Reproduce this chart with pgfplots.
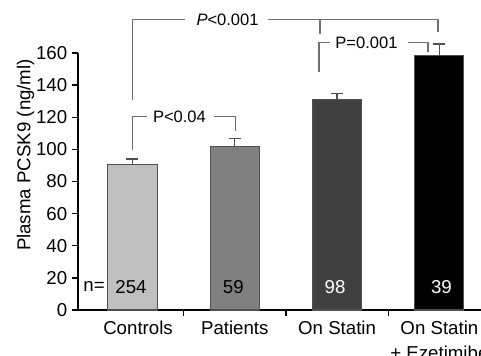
\documentclass[border=0pt]{standalone}
\usepackage{fontspec}
\setmainfont{Liberation Sans}
\usepackage{pgfplots}
\pgfplotsset{compat=1.18}
\definecolor{cA}{HTML}{C0C0C0}
\definecolor{cB}{HTML}{808080}
\definecolor{cC}{HTML}{404040}
\definecolor{cD}{HTML}{000000}
\definecolor{edge}{HTML}{505050}
\definecolor{brk}{HTML}{707070}
\begin{document}
\begin{tikzpicture}
\useasboundingbox (-58.5pt,-33.75pt) rectangle (302.25pt,232.5pt);
\begin{axis}[
  at={(40.875pt,0pt)}, anchor=origin,
  x=76.725pt, y=1.2045pt,
  xmin=-0.533, xmax=3.6, ymin=0, ymax=160,
  clip=false,
  axis x line=bottom, axis y line=left,
  axis line style={-, line width=1pt, black},
  tick align=outside,
  major tick length=4.5pt,
  tick style={black, line width=1pt},
  ytick={0,20,...,160},
  xtick={0.5,1.5,2.5,3.5},
  xticklabels={},
  extra x ticks={0.054,1,2,3},
  extra x tick labels={Controls,Patients,On Statin,{On Statin\\+ Ezetimibe}},
  extra x tick style={major tick length=0pt, tick label style={anchor=north, inner sep=0pt, align=center, yshift=-8pt}},
  tick label style={font=\fontsize{14}{18.75}\selectfont},
  /pgf/number format/assume math mode=true,
]
\addplot[ybar, bar width=0.48, bar shift=0pt, fill=cA, draw=edge, line width=0.8pt,
  error bars/.cd, y dir=plus, y explicit,
  error bar style={edge, line width=1pt}, error mark options={rotate=90, edge, line width=1pt, mark size=4.5pt}]
  coordinates {(0,90.5) +- (0,3.5)};
\addplot[ybar, bar width=0.48, bar shift=0pt, fill=cB, draw=edge, line width=0.8pt,
  error bars/.cd, y dir=plus, y explicit,
  error bar style={edge, line width=1pt}, error mark options={rotate=90, edge, line width=1pt, mark size=4.5pt}]
  coordinates {(1,102.1) +- (0,4.8)};
\addplot[ybar, bar width=0.48, bar shift=0pt, fill=cC, draw=edge, line width=0.8pt,
  error bars/.cd, y dir=plus, y explicit,
  error bar style={edge, line width=1pt}, error mark options={rotate=90, edge, line width=1pt, mark size=4.5pt}]
  coordinates {(2,130.8) +- (0,4.1)};
\addplot[ybar, bar width=0.48, bar shift=0pt, fill=cD, draw=edge, line width=0.8pt,
  error bars/.cd, y dir=plus, y explicit,
  error bar style={edge, line width=1pt}, error mark options={rotate=90, edge, line width=1pt, mark size=4.5pt}]
  coordinates {(3,158.2) +- (0,7.4)};
% sample sizes
\node[font=\fontsize{14}{16}\selectfont, inner sep=0pt] at (axis cs:-0.376,14.5) {n=};
\node[font=\fontsize{14}{16}\selectfont, inner sep=0pt] at (axis cs:-0.015,14.5) {254};
\node[font=\fontsize{14}{16}\selectfont, inner sep=0pt] at (axis cs:0.985,14.5) {59};
\node[font=\fontsize{14}{16}\selectfont, inner sep=0pt, white] at (axis cs:1.98,14.5) {98};
\node[font=\fontsize{14}{16}\selectfont, inner sep=0pt, white] at (axis cs:3.02,14.5) {39};
% y label
\node[rotate=90, font=\fontsize{14}{16}\selectfont, inner sep=0pt] at (axis cs:-1.046,96.5) {Plasma PCSK9 (ng/ml)};
% brackets
\draw[brk, line width=1pt] (axis cs:0.002,130.8) -- (axis cs:0.002,181) -- (axis cs:0.513,181);
\node[font=\fontsize{12.4}{14}\selectfont, inner sep=0pt] at (axis cs:0.929,181) {\textit{P}<0.001};
\draw[brk, line width=1pt] (axis cs:1.325,181) -- (axis cs:2.986,181) -- (axis cs:2.986,172.9);
\draw[brk, line width=1pt] (axis cs:1.833,181) -- (axis cs:1.833,171.7);
\draw[brk, line width=1pt] (axis cs:1.823,148.4) -- (axis cs:1.823,166.4) -- (axis cs:1.931,166.4);
\node[font=\fontsize{12.4}{14}\selectfont, inner sep=0pt] at (axis cs:2.287,166.4) {P=0.001};
\draw[brk, line width=1pt] (axis cs:2.693,166.4) -- (axis cs:2.889,166.4) -- (axis cs:2.889,160.8);
\draw[brk, line width=1pt] (axis cs:0.002,99.6) -- (axis cs:0.002,120.4) -- (axis cs:0.139,120.4);
\node[font=\fontsize{12.4}{14}\selectfont, inner sep=0pt] at (axis cs:0.459,120.4) {P<0.04};
\draw[brk, line width=1pt] (axis cs:0.797,120.4) -- (axis cs:1.009,120.4) -- (axis cs:1.009,111.6);
\end{axis}
\end{tikzpicture}
\end{document}
